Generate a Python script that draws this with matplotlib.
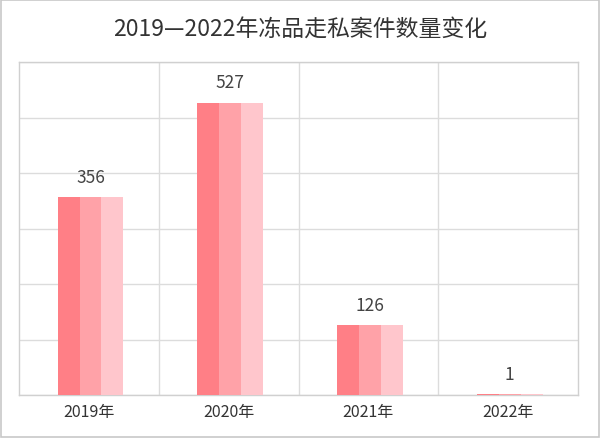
import matplotlib
matplotlib.use("Agg")
import matplotlib.pyplot as plt
from matplotlib.patches import Rectangle
import numpy as np

plt.rcParams['font.family'] = ['Noto Sans CJK SC', 'DejaVu Sans']

title = "2019—2022年冻品走私案件数量变化"
categories = ["2019年", "2020年", "2021年", "2022年"]
values = [356, 527, 126, 1]
stripe_colors = ["#FF7F86", "#FFA2A8", "#FFC6CC"]

fig = plt.figure(figsize=(6.0, 4.39), dpi=100)
fig.patch.set_facecolor("white")
fig.add_artist(Rectangle((0.002, 0.002), 0.996, 0.995, transform=fig.transFigure,
                         fill=False, edgecolor="#c8c8c8", linewidth=1.2))

ax = fig.add_axes([19/600, 1-396/439, (578-19)/600, (396-63)/439])
x = np.arange(len(categories))
total_w = 0.47
sw = total_w / 3
shift = 0.012
for i, c in enumerate(stripe_colors):
    ax.bar(x + shift - total_w/2 + sw*(i+0.5), values, width=sw, color=c, linewidth=0, zorder=3)

for xi, v in zip(x, values):
    ax.annotate(str(v), (xi + shift, v), xytext=(0, 8), textcoords="offset points",
                ha="center", va="bottom", fontsize=12.5, color="#444444")

ax.set_xlim(-0.5, len(categories) - 0.5)
ax.set_ylim(0, 600)
ax.set_yticks(np.arange(0, 601, 100))
ax.set_yticklabels([])
ax.tick_params(axis="y", length=0)
ax.set_xticks(x)
ax.set_xticklabels(categories, fontsize=11.5, color="#333333")
ax.tick_params(axis="x", length=0, pad=6)
ax.set_xticks(np.arange(0.5, len(categories) - 0.5, 1), minor=True)
ax.tick_params(axis="x", which="minor", length=0)
ax.grid(axis="y", which="major", color="#dcdcdc", linewidth=1, zorder=0)
ax.grid(axis="x", which="minor", color="#dcdcdc", linewidth=1, zorder=0)
ax.grid(axis="x", which="major", visible=False)
for s in ax.spines.values():
    s.set_color("#d0d0d0")
    s.set_linewidth(1)

fig.text(0.5, 1-30/439, title, ha="center", va="center", fontsize=16.5, color="#333333")

fig.savefig("out.png", dpi=100)
